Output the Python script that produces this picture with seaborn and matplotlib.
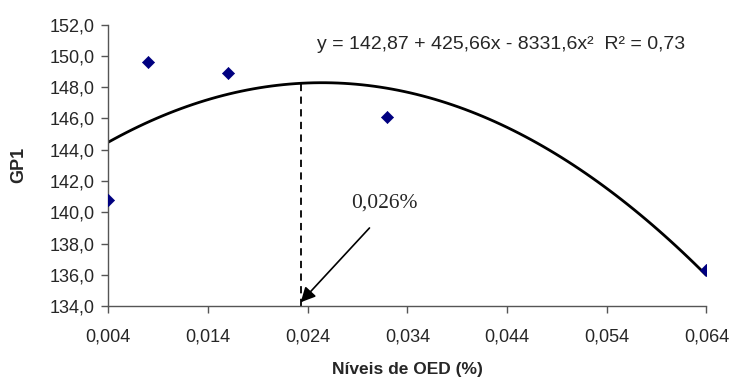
import numpy as np
import pandas as pd
import seaborn as sns
import matplotlib.pyplot as plt

# data
oed = [0.004, 0.008, 0.016, 0.032, 0.064]
gp1 = [140.8, 149.6, 148.9, 146.1, 136.3]

x_ticks = [0.004, 0.014, 0.024, 0.034, 0.044, 0.054, 0.064]
x_labels = ['0,004', '0,014', '0,024', '0,034', '0,044', '0,054', '0,064']
y_ticks = [134, 136, 138, 140, 142, 144, 146, 148, 150, 152]
y_labels = ['134,0', '136,0', '138,0', '140,0', '142,0', '144,0', '146,0', '148,0', '150,0', '152,0']

equation = 'y = 142,87 + 425,66x - 8331,6x²  R² = 0,73'
optimum_label = '0,026%'
optimum_x = 0.0233

df = pd.DataFrame({'oed': oed, 'gp1': gp1})

sns.set_style('white')
plt.rcParams['font.family'] = ['Liberation Sans', 'DejaVu Sans']

fig = plt.figure(figsize=(7.32, 3.78), dpi=100)
ax = fig.add_axes([0.148, 0.19, 0.817, 0.745])

# quadratic trendline
sns.regplot(data=df, x='oed', y='gp1', order=2, ci=None, scatter=False,
            line_kws={'color': 'black', 'lw': 2.0}, ax=ax)
sns.scatterplot(data=df, x='oed', y='gp1', marker='D', color='#000080',
                s=38, edgecolor='#000080', zorder=5, ax=ax)

# dashed line down from the curve at the optimum
coef = np.polyfit(oed, gp1, 2)
ax.vlines(optimum_x, 134, np.polyval(coef, optimum_x), colors='black',
          linestyles=(0, (4, 3)), lw=1.3)

ax.annotate('', xy=(optimum_x, 134.25), xytext=(0.0302, 139.0),
            arrowprops=dict(arrowstyle='-|>', color='black', lw=1.2,
                            mutation_scale=22, shrinkA=0, shrinkB=0))
ax.text(0.0317, 140.6, optimum_label, family='Liberation Serif', fontsize=15.5,
        ha='center', va='center')
ax.text(0.0434, 150.75, equation, fontsize=14, ha='center', va='center')

ax.set_xlim(0.004, 0.064)
ax.set_ylim(134, 152)
ax.set_xticks(x_ticks)
ax.set_xticklabels(x_labels, fontsize=13)
ax.set_yticks(y_ticks)
ax.set_yticklabels(y_labels, fontsize=13)
ax.tick_params(axis='both', direction='out', length=5, width=1, color='#555555',
               left=True, bottom=True)
ax.tick_params(axis='x', pad=11)
ax.tick_params(axis='y', pad=5)

ax.set_xlabel('Níveis de OED (%)', fontsize=12.5, fontweight='bold', labelpad=12)
ax.set_ylabel('GP1', fontsize=13, fontweight='bold', labelpad=16)

for side in ['top', 'right']:
    ax.spines[side].set_visible(False)
for side in ['left', 'bottom']:
    ax.spines[side].set_color('#555555')
    ax.spines[side].set_linewidth(1)

fig.savefig('out.png', dpi=100)
